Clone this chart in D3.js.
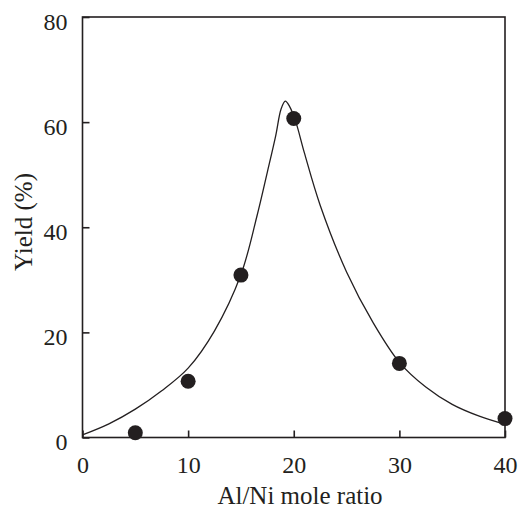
<!DOCTYPE html>
<html>
<head>
<meta charset="utf-8">
<script src="https://cdn.jsdelivr.net/npm/d3@7"></script>
<style>
  html, body { margin: 0; padding: 0; background: #fff; }
  svg { display: block; }
</style>
</head>
<body>
<svg id="chart" width="520" height="508"></svg>
<script>
// Measured yield at each Al/Ni mole ratio
const ratios = [5, 10, 15, 20, 30, 40];
const yields = [0.9, 10.7, 30.9, 60.7, 14.1, 3.6];

// Fitted trend curve
const fitX = [0, 2.5, 5, 7.5, 10, 12.5, 15, 16.5, 17.5, 18.3, 18.8, 19.2, 19.6, 20.2, 21, 22.5, 25, 27.5, 30, 32.5, 35, 37.5, 40];
const fitY = [0.5, 2.6, 5.4, 8.9, 13.2, 20.3, 31, 42, 50.5, 57.5, 62.5, 64.0, 63.0, 60.0, 54.2, 44.2, 31.5, 21.9, 14.3, 9.6, 6.3, 4.1, 2.5];

// Axis ticks
const xTicks = [0, 10, 20, 30, 40];
const yTicks = [0, 20, 40, 60, 80];

const plot = { left: 82.5, right: 505, top: 17, bottom: 437.5 };
const ink = "#231f20";

// Pick the first installed serif face from a list of candidates
function pickFont(cands, fallback) {
  const ctx = document.createElement("canvas").getContext("2d");
  const probe = "Al/Ni mole ratio 0123456789 Yield (%)";
  ctx.font = "40px monospace";
  const base = ctx.measureText(probe).width;
  for (const f of cands) {
    ctx.font = `40px "${f}", monospace`;
    if (Math.abs(ctx.measureText(probe).width - base) > 0.5) return `"${f}"`;
  }
  return fallback;
}
const serif = pickFont(["Liberation Serif", "Tinos", "Times New Roman", "Nimbus Roman", "Nimbus Roman No9 L", "FreeSerif", "DejaVu Serif", "Noto Serif"], "serif");

const svg = d3.select("#chart");
const x = d3.scaleLinear().domain([0, 40]).range([plot.left, plot.right]);
const y = d3.scaleLinear().domain([0, 80]).range([plot.bottom, plot.top]);

// Frame
svg.append("rect")
  .attr("x", plot.left).attr("y", plot.top)
  .attr("width", plot.right - plot.left).attr("height", plot.bottom - plot.top)
  .attr("fill", "none").attr("stroke", ink).attr("stroke-width", 1.6);

// Bottom axis: inward ticks
const xAxis = svg.append("g").attr("transform", `translate(0,${plot.bottom})`)
  .call(d3.axisBottom(x).tickValues(xTicks).tickSizeInner(-7).tickSizeOuter(0).tickPadding(0));
xAxis.attr("font-family", serif).attr("font-size", 24);
xAxis.select(".domain").remove();
xAxis.selectAll("line").attr("stroke", ink).attr("stroke-width", 1.6);
xAxis.selectAll("text")
  .attr("y", 35).attr("dy", null)
  .attr("fill", ink);

// Left axis: inward ticks
const yAxis = svg.append("g").attr("transform", `translate(${plot.left},0)`)
  .call(d3.axisLeft(y).tickValues(yTicks).tickSizeInner(-7).tickSizeOuter(0).tickPadding(0));
yAxis.attr("font-family", serif).attr("font-size", 24);
yAxis.select(".domain").remove();
yAxis.selectAll("line").attr("stroke", ink).attr("stroke-width", 1.6);
yAxis.selectAll("text")
  .attr("x", -15).attr("dy", "0.5em")
  .attr("fill", ink);

// Axis titles
svg.append("text")
  .attr("x", 300).attr("y", 504)
  .attr("text-anchor", "middle")
  .attr("font-family", serif).attr("font-size", 25).attr("fill", ink)
  .text("Al/Ni mole ratio");
svg.append("text")
  .attr("transform", `translate(32,222) rotate(-90)`)
  .attr("text-anchor", "middle")
  .attr("font-family", serif).attr("font-size", 25).attr("fill", ink)
  .text("Yield (%)");

// Trend curve
const fit = fitX.map((v, i) => [v, fitY[i]]);
svg.append("path")
  .datum(fit)
  .attr("fill", "none").attr("stroke", ink).attr("stroke-width", 1.3)
  .attr("d", d3.line().x(d => x(d[0])).y(d => y(d[1])).curve(d3.curveCatmullRom.alpha(0.5)));

// Data points
svg.append("g").selectAll("circle")
  .data(ratios.map((r, i) => [r, yields[i]]))
  .join("circle")
  .attr("cx", d => x(d[0])).attr("cy", d => y(d[1]))
  .attr("r", 7.5).attr("fill", ink);
</script>
</body>
</html>
